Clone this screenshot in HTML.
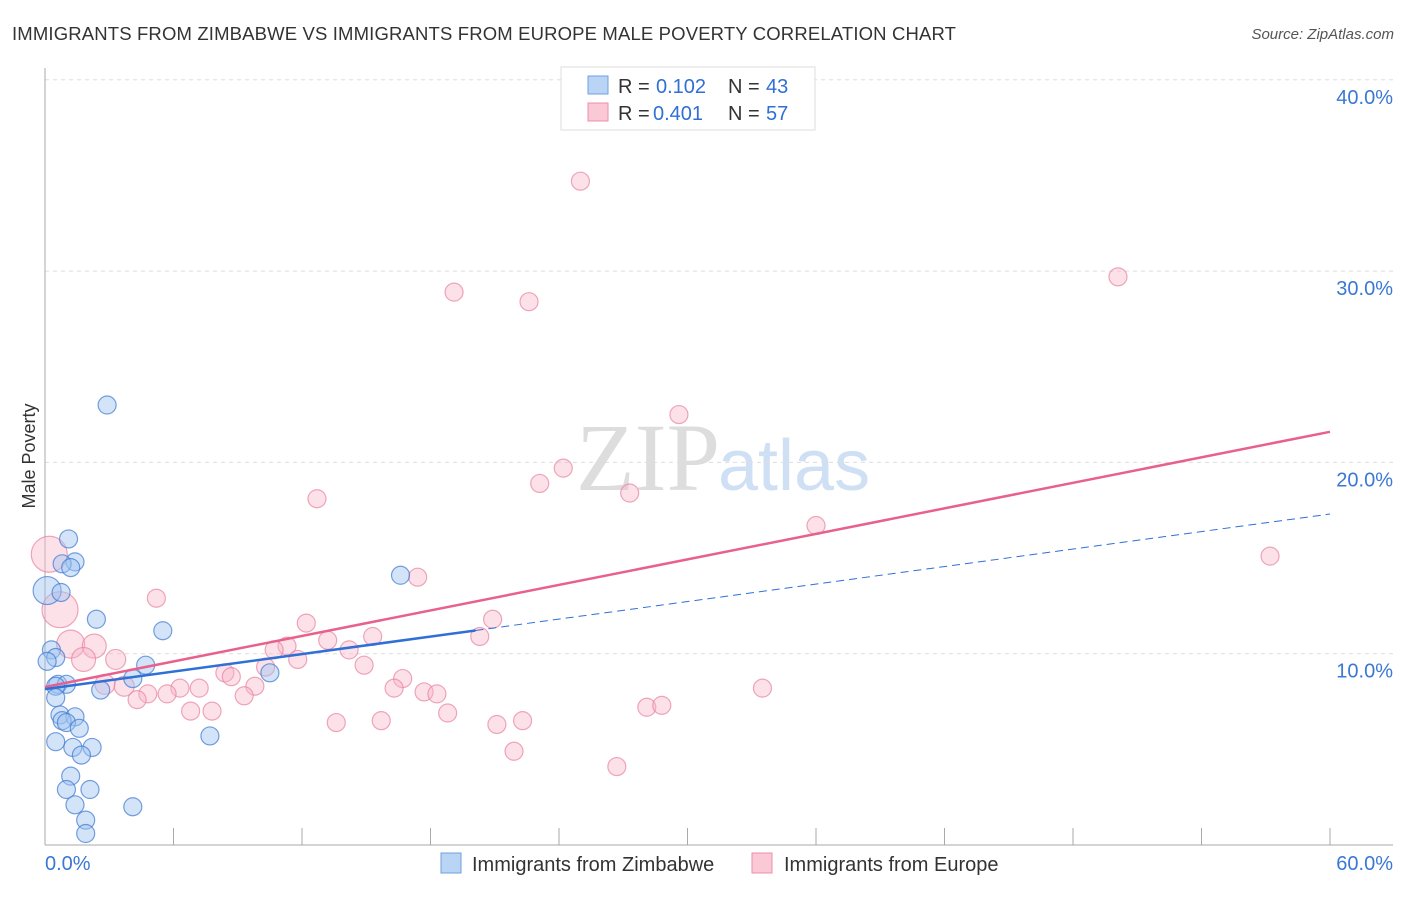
<!DOCTYPE html>
<html><head><meta charset="utf-8"><style>
body{margin:0;background:#fff;font-family:"Liberation Sans",sans-serif}
</style></head><body>
<svg width="1406" height="892" xmlns="http://www.w3.org/2000/svg">
<text x="12" y="40" font-size="18.5" letter-spacing="0.15" fill="#333">IMMIGRANTS FROM ZIMBABWE VS IMMIGRANTS FROM EUROPE MALE POVERTY CORRELATION CHART</text>
<text x="1394" y="39" font-size="15" fill="#555" text-anchor="end" font-style="italic">Source: ZipAtlas.com</text>
<text x="720" y="490" font-size="96" fill="#ddd" text-anchor="end" font-family="Liberation Serif">ZIP</text>
<text x="718" y="490" font-size="72" fill="#cfe0f5">atlas</text>
<g id="grid"></g>
<g id="axes"></g>
<g id="pts"></g>
<g id="lines"></g>
<text x="35" y="456" font-size="18" fill="#333" text-anchor="middle" transform="rotate(-90 35 456)">Male Poverty</text>
<g>
<rect x="561" y="67" width="254" height="63" fill="#fff" stroke="#ddd"/>
<rect x="588" y="76" width="20" height="18" fill="#b9d4f5" stroke="#6fa0e0"/>
<rect x="588" y="103" width="20" height="18" fill="#fbc8d6" stroke="#eb8eaa"/>
<text x="618" y="93" font-size="20" fill="#333">R =</text><text x="656" y="93" font-size="20" fill="#2f6fd6">0.102</text>
<text x="728" y="93" font-size="20" fill="#333">N =</text><text x="766" y="93" font-size="20" fill="#2f6fd6">43</text>
<text x="618" y="120" font-size="20" fill="#333">R =</text><text x="653" y="120" font-size="20" fill="#2f6fd6">0.401</text>
<text x="728" y="120" font-size="20" fill="#333">N =</text><text x="766" y="120" font-size="20" fill="#2f6fd6">57</text>
</g>
<g>
<rect x="441" y="853" width="20" height="20" fill="#b9d4f5" stroke="#6fa0e0"/>
<text x="472" y="871" font-size="20" fill="#333">Immigrants from Zimbabwe</text>
<rect x="752" y="853" width="20" height="20" fill="#fbc8d6" stroke="#eb8eaa"/>
<text x="784" y="871" font-size="20" fill="#333">Immigrants from Europe</text>
</g>
</svg>
<script>
const xTicks=[0,6,12,18,24,30,36,42,48,54,60];
const yTicks=[10,20,30,40];
const yTickLabels=["10.0%","20.0%","30.0%","40.0%"];
const blueX=[2.9,1.1,1.4,0.8,1.2,0.1,0.75,2.4,5.5,16.6,0.3,0.5,0.1,4.7,10.5,4.1,0.6,1.0,0.5,2.6,0.5,0.7,1.4,0.8,1.0,1.6,7.7,0.5,1.3,2.2,1.7,1.2,1.0,2.1,1.4,4.1,1.9,1.9];
const blueY=[23.0,16.0,14.8,14.7,14.5,13.3,13.2,11.8,11.2,14.1,10.2,9.8,9.6,9.4,9.0,8.7,8.4,8.4,8.3,8.1,7.7,6.8,6.7,6.5,6.4,6.1,5.7,5.4,5.1,5.1,4.7,3.6,2.9,2.9,2.1,2.0,1.3,0.6];
const blueR=[9,9,9,9,9,14,9,9,9,9,9,9,9,9,9,9,9,9,9,9,9,9,9,9,9,9,9,9,9,9,9,9,9,9,9,9,9,9];
const pinkX=[25.0,50.1,19.1,22.6,29.6,24.2,23.1,12.7,27.3,36.0,57.2,0.2,0.7,17.4,5.2,20.9,12.2,1.2,2.3,15.3,13.2,20.3,11.3,10.7,14.2,1.8,3.3,11.8,14.9,10.3,8.4,8.7,16.7,2.8,3.7,6.3,7.2,9.8,16.3,33.5,4.8,5.7,17.7,18.3,9.3,4.3,6.8,7.8,18.8,28.1,28.8,13.6,15.7,22.3,21.1,21.9,26.7];
const pinkY=[34.7,29.7,28.9,28.4,22.5,19.7,18.9,18.1,18.4,16.7,15.1,15.2,12.3,14.0,12.9,11.8,11.6,10.5,10.4,10.9,10.7,10.9,10.4,10.2,10.2,9.7,9.7,9.7,9.4,9.3,9.0,8.8,8.7,8.4,8.3,8.2,8.2,8.3,8.2,8.2,7.9,7.9,8.0,7.9,7.8,7.6,7.0,7.0,6.9,7.2,7.3,6.4,6.5,6.5,6.3,4.9,4.1];
const pinkR=[9,9,9,9,9,9,9,9,9,9,9,18,18,9,9,9,9,14,12,9,9,9,9,9,9,12,10,9,9,9,9,9,9,10,10,9,9,9,9,9,9,9,9,9,9,9,9,9,9,9,9,9,9,9,9,9,9];
const pinkLine=[8.26,21.6];
const blueLine=[8.15,17.3];
const blueSolidEnd=20.1;
const X=v=>45+v/60*1285, Y=v=>845-v*19.13;
const NS="http://www.w3.org/2000/svg";
function mk(t,a,p){const e=document.createElementNS(NS,t);for(const k in a)e.setAttribute(k,a[k]);document.getElementById(p).appendChild(e);return e;}
yTicks.forEach((t,i)=>{
const g=mk('line',{x1:45,x2:1393,y1:Y(t),y2:Y(t),stroke:'#ddd','stroke-dasharray':'4,4'},'grid');


const tx=mk('text',{x:1393,y:Y(t)+24,'font-size':20,fill:'#3a78d4','text-anchor':'end'},'axes');
tx.textContent=yTickLabels[i];


});
mk('line',{x1:45,x2:45,y1:68,y2:845,stroke:'#aaa'},'axes');
mk('line',{x1:45,x2:1393,y1:845,y2:845,stroke:'#aaa'},'axes');
xTicks.forEach(t=>{const l=mk('line',{x1:X(t),x2:X(t),y1:828,y2:845,stroke:'#aaa'},'axes');

});
const x0=mk('text',{x:45,y:870,'font-size':20,fill:'#3a78d4'},'axes');x0.textContent='0.0%';


const x1=mk('text',{x:1393,y:870,'font-size':20,fill:'#3a78d4','text-anchor':'end'},'axes');x1.textContent='60.0%';


pinkX.forEach((v,i)=>{const c=mk('circle',{cx:X(v),cy:Y(pinkY[i]),r:pinkR[i],fill:'rgba(248,180,200,0.4)',stroke:'rgba(232,130,160,0.7)','stroke-width':1.2},'pts');

});
blueX.forEach((v,i)=>{const c=mk('circle',{cx:X(v),cy:Y(blueY[i]),r:blueR[i],fill:'rgba(160,195,240,0.45)',stroke:'rgba(60,120,210,0.7)','stroke-width':1.2},'pts');

});
const bAt=x=>blueLine[0]+(blueLine[1]-blueLine[0])*x/60;
let l=mk('line',{x1:X(0),y1:Y(pinkLine[0]),x2:X(60),y2:Y(pinkLine[1]),stroke:'#e8608c','stroke-width':2.5},'lines');


l=mk('line',{x1:X(0),y1:Y(bAt(0)),x2:X(blueSolidEnd),y2:Y(bAt(blueSolidEnd)),stroke:'#2f6fd6','stroke-width':2.5},'lines');


l=mk('line',{x1:X(blueSolidEnd),y1:Y(bAt(blueSolidEnd)),x2:X(60),y2:Y(bAt(60)),stroke:'#2f6fd6','stroke-width':1,'stroke-dasharray':'8,5'},'lines');


</script>
</body></html>
